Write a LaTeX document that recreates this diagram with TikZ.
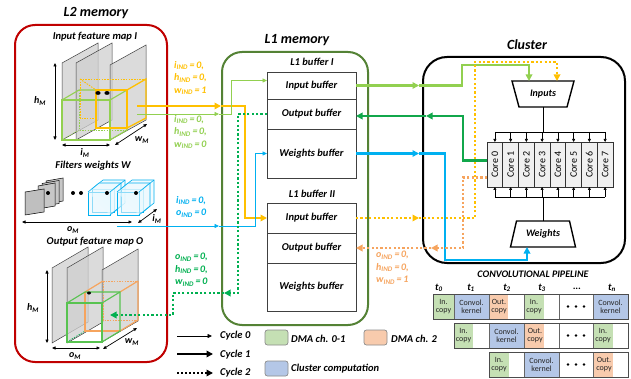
\documentclass[tikz,border=0pt]{standalone}
\usepackage{fontspec}
\setmainfont{Carlito}
\usetikzlibrary{arrows.meta,calc}
\definecolor{l2red}{HTML}{C00000}
\definecolor{l1green}{HTML}{548235}
\definecolor{lgreen}{HTML}{92D050}
\definecolor{dgreen}{HTML}{00B050}
\definecolor{yel}{HTML}{FFC000}
\definecolor{cyn}{HTML}{00B0F0}
\definecolor{orng}{HTML}{F6A45E}
\definecolor{cgreen}{HTML}{C5E0B4}
\definecolor{cblue}{HTML}{B4C7E7}
\definecolor{corange}{HTML}{F8CBAD}
\definecolor{planegray}{HTML}{D0D0D0}
\newcommand{\idx}[2]{\textit{#1}\textsubscript{IND}\,=\,#2}
\newcommand{\dplane}[5]{\filldraw[planestyle] (#1,#2) -- ++(#4,#5) -- (#1+#4,#3+#5) -- (#1,#3) -- cycle;}
\tikzset{
  planestyle/.style={fill=planegray, fill opacity=0.75, draw=black!75, line width=0.5pt},
  titletext/.style={font=\bfseries\itshape\fontsize{14}{16}\selectfont},
  subtitle/.style={font=\bfseries\itshape\fontsize{10.5}{12}\selectfont},
  idxlbl/.style={font=\bfseries\itshape\fontsize{10}{12.5}\selectfont, align=left, anchor=north west, inner sep=0pt},
  dimlbl/.style={font=\bfseries\itshape\fontsize{10}{12}\selectfont, inner sep=0pt},
  dimarrow/.style={line width=0.7pt, {Triangle[length=3.5pt,width=3pt]}-{Triangle[length=3.5pt,width=3pt]}},
  bigbox/.style={draw, line width=2pt, rounded corners=20pt, fill=white, inner sep=0pt},
  bufcell/.style={draw=black!75, line width=0.7pt, minimum width=89pt, inner sep=0pt, outer sep=0pt, font=\bfseries\itshape\fontsize{10.5}{12}\selectfont},
  cyc0/.style={line width=0.8pt, -{Triangle[length=4.5pt,width=4pt]}},
  cyc1/.style={line width=2.5pt, -{Triangle[length=6.5pt,width=6.5pt]}},
  cyc2/.style={line width=2.2pt, dash pattern=on 2.2pt off 2.2pt, -{Triangle[length=6.5pt,width=6.5pt]}},
  core/.style={draw=black!80, fill=black!6, line width=0.6pt, minimum width=15.75pt, minimum height=45pt, inner sep=0pt, outer sep=0pt, font=\fontsize{10}{11}\selectfont},
  smalltip/.style={line width=0.6pt, -{Triangle[length=3pt,width=3pt]}},
  trapnode/.style={inner sep=0pt, outer sep=0pt, minimum height=26pt, font=\bfseries\itshape\fontsize{10}{11}\selectfont},
  gcube/.style={draw=lgreen, line width=1.1pt},
  gcubeh/.style={draw=lgreen, line width=0.6pt, dash pattern=on 1.5pt off 1.2pt},
  ycube/.style={draw=yel, line width=1.3pt},
  ycubeh/.style={draw=yel, line width=0.9pt, dash pattern=on 1.5pt off 1.2pt},
  ocube/.style={draw=orng, line width=1.2pt},
  ocubeh/.style={draw=orng, line width=0.9pt, dash pattern=on 1.5pt off 1.2pt},
  dcube/.style={draw=dgreen!80!black, line width=1.1pt},
  bcube/.style={draw=cyn, line width=0.6pt, fill=cyn!8, fill opacity=0.6},
  pcell/.style={draw=black!60, line width=0.6pt, inner sep=0pt, outer sep=0pt, minimum height=25pt},
  prow/.style={draw=black!70, line width=1pt, inner sep=0pt, outer sep=0pt, minimum height=25pt},
  ptext/.style={font=\fontsize{8}{8.5}\selectfont, align=center, inner sep=0pt, text=black!85},
  tlbl/.style={font=\bfseries\itshape\fontsize{10}{11}\selectfont, inner sep=0pt},
  legbox/.style={draw=black!45, line width=0.7pt, rounded corners=2.5pt, minimum width=23pt, minimum height=15pt, inner sep=0pt},
  legtext/.style={font=\bfseries\itshape\fontsize{10.5}{12}\selectfont, anchor=west, inner sep=0pt}
}
\begin{document}
\begin{tikzpicture}[x=1pt,y=-1pt]
\useasboundingbox (0,0) rectangle (631,379);
\fill[white] (0,0) rectangle (631,379);

% ---------------- L2 memory ----------------
\node[titletext] (l2title) at (96,13) {L2 memory};
\node[bigbox, draw=l2red, minimum width=152pt, minimum height=337pt] (l2) at (91,193.5) {};
\node[subtitle] (ifmtitle) at (95,37) {Input feature map I};

% input feature map planes
\dplane{62}{63}{140}{36}{-20}
\dplane{76}{63}{140}{36}{-20}
\dplane{110}{65}{140}{36}{-20}
% green cube
\draw[gcubeh] (79,90) -- (79,130) -- (127,130);
\draw[gcubeh] (62,140) -- (79,130);
\draw[gcube] (62,100) rectangle (110,140);
\draw[gcube] (62,100) -- (79,90) -- (127,90) -- (127,130) -- (110,140);
\draw[gcube] (110,100) -- (127,90);
% yellow cube
\draw[ycubeh] (80,79) -- (146,79);
\draw[ycubeh] (80,79) -- (80,118) -- (96,118);
\draw[ycubeh] (80,79) -- (96,90);
\draw[ycube] (96,90) rectangle (127,128);
\draw[ycube] (127,90) -- (146,79) -- (146,118) -- (127,128);
\fill (98,93) ellipse (2.6 and 1.9);
\fill (107,93) ellipse (2.6 and 1.9);
% dimensions
\coordinate (ihA) at (55,63); \coordinate (ihB) at (55,140);
\draw[dimarrow] (ihA) -- (ihB);
\node[dimlbl] (ihl) at (40,101) {h\textsubscript{M}};
\coordinate (iiA) at (62,145); \coordinate (iiB) at (110,145);
\draw[dimarrow] (iiA) -- (iiB);
\node[dimlbl] (iil) at (85,153) {i\textsubscript{M}};
\coordinate (iwA) at (115,145); \coordinate (iwB) at (147,124);
\draw[dimarrow] (iwA) -- (iwB);
\node[dimlbl] (iwl) at (142,140) {w\textsubscript{M}};

% filters weights
\node[subtitle] (fwtitle) at (93,166) {Filters weights W};
\foreach \k in {2,1,0}{
  \filldraw[fill=black!22, draw=black, line width=0.5pt] ({38+4*\k},{186-2.5*\k}) -- ++(17,-3) -- ++(0,23) -- ++(-17,3) -- cycle;
}
\filldraw[fill=black!25, draw=black, line width=0.5pt] (25,192) -- (44,189) -- (44,212) -- (25,215) -- cycle;
\fill (48,193) circle (2);
\fill (73,193) circle (2);
\fill (81,193) circle (2);
\foreach \gx in {88,117}{
  \foreach \k in {1,0}{
    \filldraw[bcube] ({\gx+4*\k},{192-3*\k}) rectangle ++(22,23);
    \draw[bcube] ({\gx+4*\k},{192-3*\k}) -- ++(11,-9) -- ++(22,0) -- ++(0,23) -- ++(-11,9);
    \draw[bcube] ({\gx+4*\k+22},{192-3*\k}) -- ++(11,-9);
  }
}
\fill (107,193) circle (2);
\fill (136,193) circle (2);
\coordinate (foA) at (22,222); \coordinate (foB) at (132,222);
\draw[dimarrow] (foA) -- (foB);
\node[dimlbl] (fol) at (73,230) {o\textsubscript{M}};
\coordinate (fiA) at (138,223); \coordinate (fiB) at (157,209);
\draw[dimarrow] (fiA) -- (fiB);
\node[dimlbl] (fil) at (157,219) {i\textsubscript{M}};

% output feature map
\node[subtitle] (ofmtitle) at (95,242) {Output feature map O};
\dplane{52}{268}{343}{36}{-21}
\dplane{67}{268}{343}{36}{-21}
\dplane{102}{270}{342}{36}{-21}
\draw[gcubeh, draw=dgreen] (85,292) -- (85,331) -- (120,331);
\draw[gcubeh, draw=dgreen] (67,342) -- (85,331);
\draw[ocubeh] (103,281) -- (138,281);
\draw[ocubeh] (103,281) -- (103,320) -- (138,320);
\draw[ocube] (85,292) -- (103,281);
\draw[ocube] (138,281) -- (138,320) -- (120,331);
\draw[ocube] (120,292) -- (138,281);
\draw[ocube] (85,292) -- (85,331) -- (120,331);
\draw[dcube, draw=lgreen!60!dgreen] (67,303) rectangle (102,342);
\draw[dcube, draw=lgreen!60!dgreen] (67,303) -- (85,292) -- (120,292) -- (120,331) -- (102,342);
\draw[dcube, draw=lgreen!60!dgreen] (102,303) -- (120,292);
\fill (89,293) ellipse (2 and 1.5);
\coordinate (ohA) at (47,270); \coordinate (ohB) at (47,343);
\draw[dimarrow] (ohA) -- (ohB);
\node[dimlbl] (ohl) at (33,308) {h\textsubscript{M}};
\coordinate (ooA) at (52,348); \coordinate (ooB) at (100,348);
\draw[dimarrow] (ooA) -- (ooB);
\node[dimlbl] (ool) at (75,356) {o\textsubscript{M}};
\coordinate (owA) at (103,349); \coordinate (owB) at (137,328);
\draw[dimarrow] (owA) -- (owB);
\node[dimlbl] (owl) at (132,342) {w\textsubscript{M}};

% ---------------- L1 memory ----------------
\node[titletext] (l1title) at (297,40) {L1 memory};
\node[bigbox, draw=l1green, minimum width=146pt, minimum height=273pt] (l1) at (295,188.5) {};
\node[subtitle] (b1title) at (312,62) {L1 buffer I};
\node[bufcell, minimum height=27pt] (ibI) at (311.5,85.5) {Input buffer};
\node[bufcell, minimum height=30pt] (obI) at (311.5,114) {Output buffer};
\node[bufcell, minimum height=49pt] (wbI) at (311.5,153.5) {Weights buffer};
\node[subtitle] (b2title) at (312,194) {L1 buffer II};
\node[bufcell, minimum height=30pt] (ibII) at (311.5,218) {Input buffer};
\node[bufcell, minimum height=30pt] (obII) at (311.5,248) {Output buffer};
\node[bufcell, minimum height=48pt] (wbII) at (311.5,287) {Weights buffer};

% ---------------- Cluster ----------------
\node[titletext] (cltitle) at (527,45) {Cluster};
\node[bigbox, draw=black, rounded corners=24pt, minimum width=202pt, minimum height=206pt] (cluster) at (524,160) {};
\node[trapnode, minimum width=62pt] (inputs) at (543,94) {Inputs};
\draw[line width=1.4pt] (inputs.north west) -- (inputs.north east) -- ([xshift=-7pt]inputs.south east) -- ([xshift=7pt]inputs.south west) -- cycle;
\node[trapnode, minimum width=65pt] (weights) at (543,234) {Weights};
\draw[line width=1.4pt] (weights.south west) -- (weights.south east) -- ([xshift=-6pt]weights.north east) -- ([xshift=6pt]weights.north west) -- cycle;
\foreach \i in {0,...,7}{
  \node[core] (core\i) at ({487+15.75*(\i+0.5)},164.5) {\rotatebox{90}{Core \i}};
}
\coordinate (busT) at (543,132);
\coordinate (busB) at (543,197);
\draw[line width=0.7pt] (inputs.south) -- (busT);
\draw[line width=0.7pt] (core0.north |- busT) -- (core7.north |- busT);
\draw[line width=0.7pt] (weights.north) -- (busB);
\draw[line width=0.7pt] (core0.south |- busB) -- (core7.south |- busB);
\foreach \i in {0,...,7}{
  \draw[smalltip] (core\i.north |- busT) -- (core\i.north);
  \draw[smalltip] (core\i.south |- busB) -- (core\i.south);
}

% ---------------- connectors L2 -> L1 ----------------
\coordinate (ysrc) at (137,106); \coordinate (yb) at (221,106);
\draw[cyc1, yel] (ysrc) -- (yb);
\draw[cyc1, yel] (yb) -- (245,106) |- (ibII.west);
\coordinate (gsrc) at (137,114); \coordinate (gb) at (219,114);
\draw[cyc0, lgreen] (gsrc) -- (gb);
\draw[cyc0, lgreen] (gb) -- (231,114) |- ([yshift=5pt]ibI.west);
\coordinate (csrc) at (117,226); \coordinate (cb) at (219,226);
\draw[cyc0, cyn] (csrc) -- (cb);
\draw[cyc0, cyn] (cb) -- (255,226) |- (wbI.west);
\coordinate (gdb) at (224,293); \coordinate (gdst) at (110,315);
\draw[cyc2, dgreen] (obI.west) -| (238,293) -- (gdb);
\draw[cyc2, dgreen] (gdb) -- (173,293) |- (gdst);

\node[idxlbl, text=yel] (lblY) at (174,61) {\idx{i}{0},\\\idx{h}{0},\\\idx{w}{1}};
\node[idxlbl, text=lgreen] (lblG) at (174,115) {\idx{i}{0},\\\idx{h}{0},\\\idx{w}{0}};
\node[idxlbl, text=cyn] (lblC) at (176,196) {\idx{i}{0},\\\idx{o}{0}};
\node[idxlbl, text=dgreen] (lblD) at (175,253) {\idx{o}{0},\\\idx{h}{0},\\\idx{w}{0}};

% ---------------- connectors L1 <-> Cluster ----------------
\coordinate (lgb) at (419,85.5);
\draw[cyc1, lgreen] (ibI.east) -- (lgb);
\draw[cyc1, lgreen] (lgb) -- (462,85.5) -- (462,65) -| ([xshift=-14pt]inputs.north);
\coordinate (ydb) at (419,218);
\draw[cyc2, yel] (ibII.east) -- (ydb);
\draw[cyc2, yel] (ydb) -- (475,218) -- (475,62) -| ([xshift=14pt]inputs.north);
\coordinate (dgb) at (426,116);
\draw[cyc1, dgreen!80!l1green] ([yshift=4pt]core0.west) -| (463,116) -- (dgb);
\draw[cyc1, dgreen!80!l1green] (dgb) -- (obI.east |- dgb);
\coordinate (cyb) at (419,153.5);
\draw[cyc1, cyn] (wbI.east) -- (cyb);
\draw[cyc1, cyn] (cyb) -- (445,153.5) |- ([xshift=-16pt,yshift=-13pt]weights.south) -- ([xshift=-16pt]weights.south);
\coordinate (odb) at (431,248);
\draw[cyc2, orng] ([yshift=-13pt]core0.west) -| (463,248) -- (odb);
\draw[cyc2, orng] (odb) -- (obII.east);
\node[idxlbl, text=orng] (lblO) at (376,251) {\idx{o}{0},\\\idx{h}{0},\\\idx{w}{1}};

% ---------------- Convolutional pipeline ----------------
\node[font=\bfseries\itshape\fontsize{10}{11}\selectfont, inner sep=0pt] (pipetitle) at (533,274.5) {CONVOLUTIONAL PIPELINE};
\node[tlbl] (t0) at (439,288) {t\textsubscript{0}};
\node[tlbl] (t1) at (471,288) {t\textsubscript{1}};
\node[tlbl] (t2) at (507,288) {t\textsubscript{2}};
\node[tlbl] (t3) at (542,288) {t\textsubscript{3}};
\node[tlbl] (tdots) at (577,288.5) {...};
\node[tlbl] (tn) at (612,288) {t\textsubscript{n}};

% row 1
\fill[cgreen] (433,294) rectangle (454,319);
\fill[cblue] (454,294) rectangle (489,319);
\fill[corange] (489,294) rectangle (508,319);
\fill[cgreen] (524,294) rectangle (544,319);
\fill[cblue] (593,294) rectangle (628,319);
\node[pcell, minimum width=21pt] (r1a) at (443.5,306.5) {};
\node[pcell, minimum width=35pt] (r1b) at (471.5,306.5) {};
\node[pcell, minimum width=35pt] (r1c) at (506.5,306.5) {};
\node[pcell, minimum width=35pt] (r1d) at (541.5,306.5) {};
\node[pcell, minimum width=34pt] (r1e) at (576,306.5) {};
\node[pcell, minimum width=35pt] (r1f) at (610.5,306.5) {};
\node[prow, minimum width=195pt] (row1) at (530.5,306.5) {};
\node[ptext] at (443.5,306.5) {In.\\copy};
\node[ptext] at (471.5,306.5) {Convol.\\kernel};
\node[ptext] at (499,306.5) {Out.\\copy};
\node[ptext] at (534,306.5) {In.\\copy};
\node[ptext] at (610.5,306.5) {Convol.\\kernel};
\foreach \dx in {-8,0,8} \fill (576+\dx,306.5) circle (1.3);

% row 2
\fill[cgreen] (454,323) rectangle (473,348);
\fill[cblue] (489,323) rectangle (524,348);
\fill[corange] (524,323) rectangle (544,348);
\fill[cgreen] (593,323) rectangle (613,348);
\node[pcell, minimum width=35pt] (r2a) at (471.5,335.5) {};
\node[pcell, minimum width=35pt] (r2b) at (506.5,335.5) {};
\node[pcell, minimum width=35pt] (r2c) at (541.5,335.5) {};
\node[pcell, minimum width=34pt] (r2d) at (576,335.5) {};
\node[pcell, minimum width=35pt] (r2e) at (610.5,335.5) {};
\node[prow, minimum width=174pt] (row2) at (541,335.5) {};
\node[ptext] at (463.5,335.5) {In.\\copy};
\node[ptext] at (506.5,335.5) {Convol.\\kernel};
\node[ptext] at (535,335.5) {Out.\\copy};
\node[ptext] at (603,335.5) {In.\\copy};
\foreach \dx in {-8,0,8} \fill (576+\dx,335.5) circle (1.3);

% row 3
\fill[cgreen] (489,352) rectangle (509,377);
\fill[cblue] (524,352) rectangle (559,377);
\fill[corange] (593,352) rectangle (613,377);
\node[pcell, minimum width=35pt] (r3a) at (506.5,364.5) {};
\node[pcell, minimum width=35pt] (r3b) at (541.5,364.5) {};
\node[pcell, minimum width=34pt] (r3c) at (576,364.5) {};
\node[pcell, minimum width=35pt] (r3d) at (610.5,364.5) {};
\node[prow, minimum width=139pt] (row3) at (558.5,364.5) {};
\node[ptext] at (499,364.5) {In.\\copy};
\node[ptext] at (541.5,364.5) {Convol.\\kernel};
\node[ptext] at (604,364.5) {Out.\\copy};
\foreach \dx in {-8,0,8} \fill (576+\dx,364.5) circle (1.3);

% ---------------- Legend ----------------
\coordinate (lg0a) at (177,336); \coordinate (lg0b) at (212,336);
\draw[cyc0, line width=0.7pt] (lg0a) -- (lg0b);
\node[legtext] (lg0t) at (220,336) {Cycle 0};
\coordinate (lg1a) at (177,354); \coordinate (lg1b) at (213,354);
\draw[cyc1, line width=2pt] (lg1a) -- (lg1b);
\node[legtext] (lg1t) at (220,355) {Cycle 1};
\coordinate (lg2a) at (177,373); \coordinate (lg2b) at (213,373);
\draw[cyc2, line width=2pt, dash pattern=on 2pt off 2pt] (lg2a) -- (lg2b);
\node[legtext] (lg2t) at (220,373) {Cycle 2};
\node[legbox, fill=cgreen] (lgdma) at (276.5,337.5) {};
\node[legtext] (lgdmat) at (291,339) {DMA ch. 0-1};
\node[legbox, fill=corange] (lgdma2) at (375.5,337.5) {};
\node[legtext] (lgdma2t) at (391,339) {DMA ch. 2};
\node[legbox, fill=cblue] (lgcc) at (276.5,368.5) {};
\node[legtext] (lgcct) at (291,369) {Cluster computation};
\end{tikzpicture}
\end{document}
